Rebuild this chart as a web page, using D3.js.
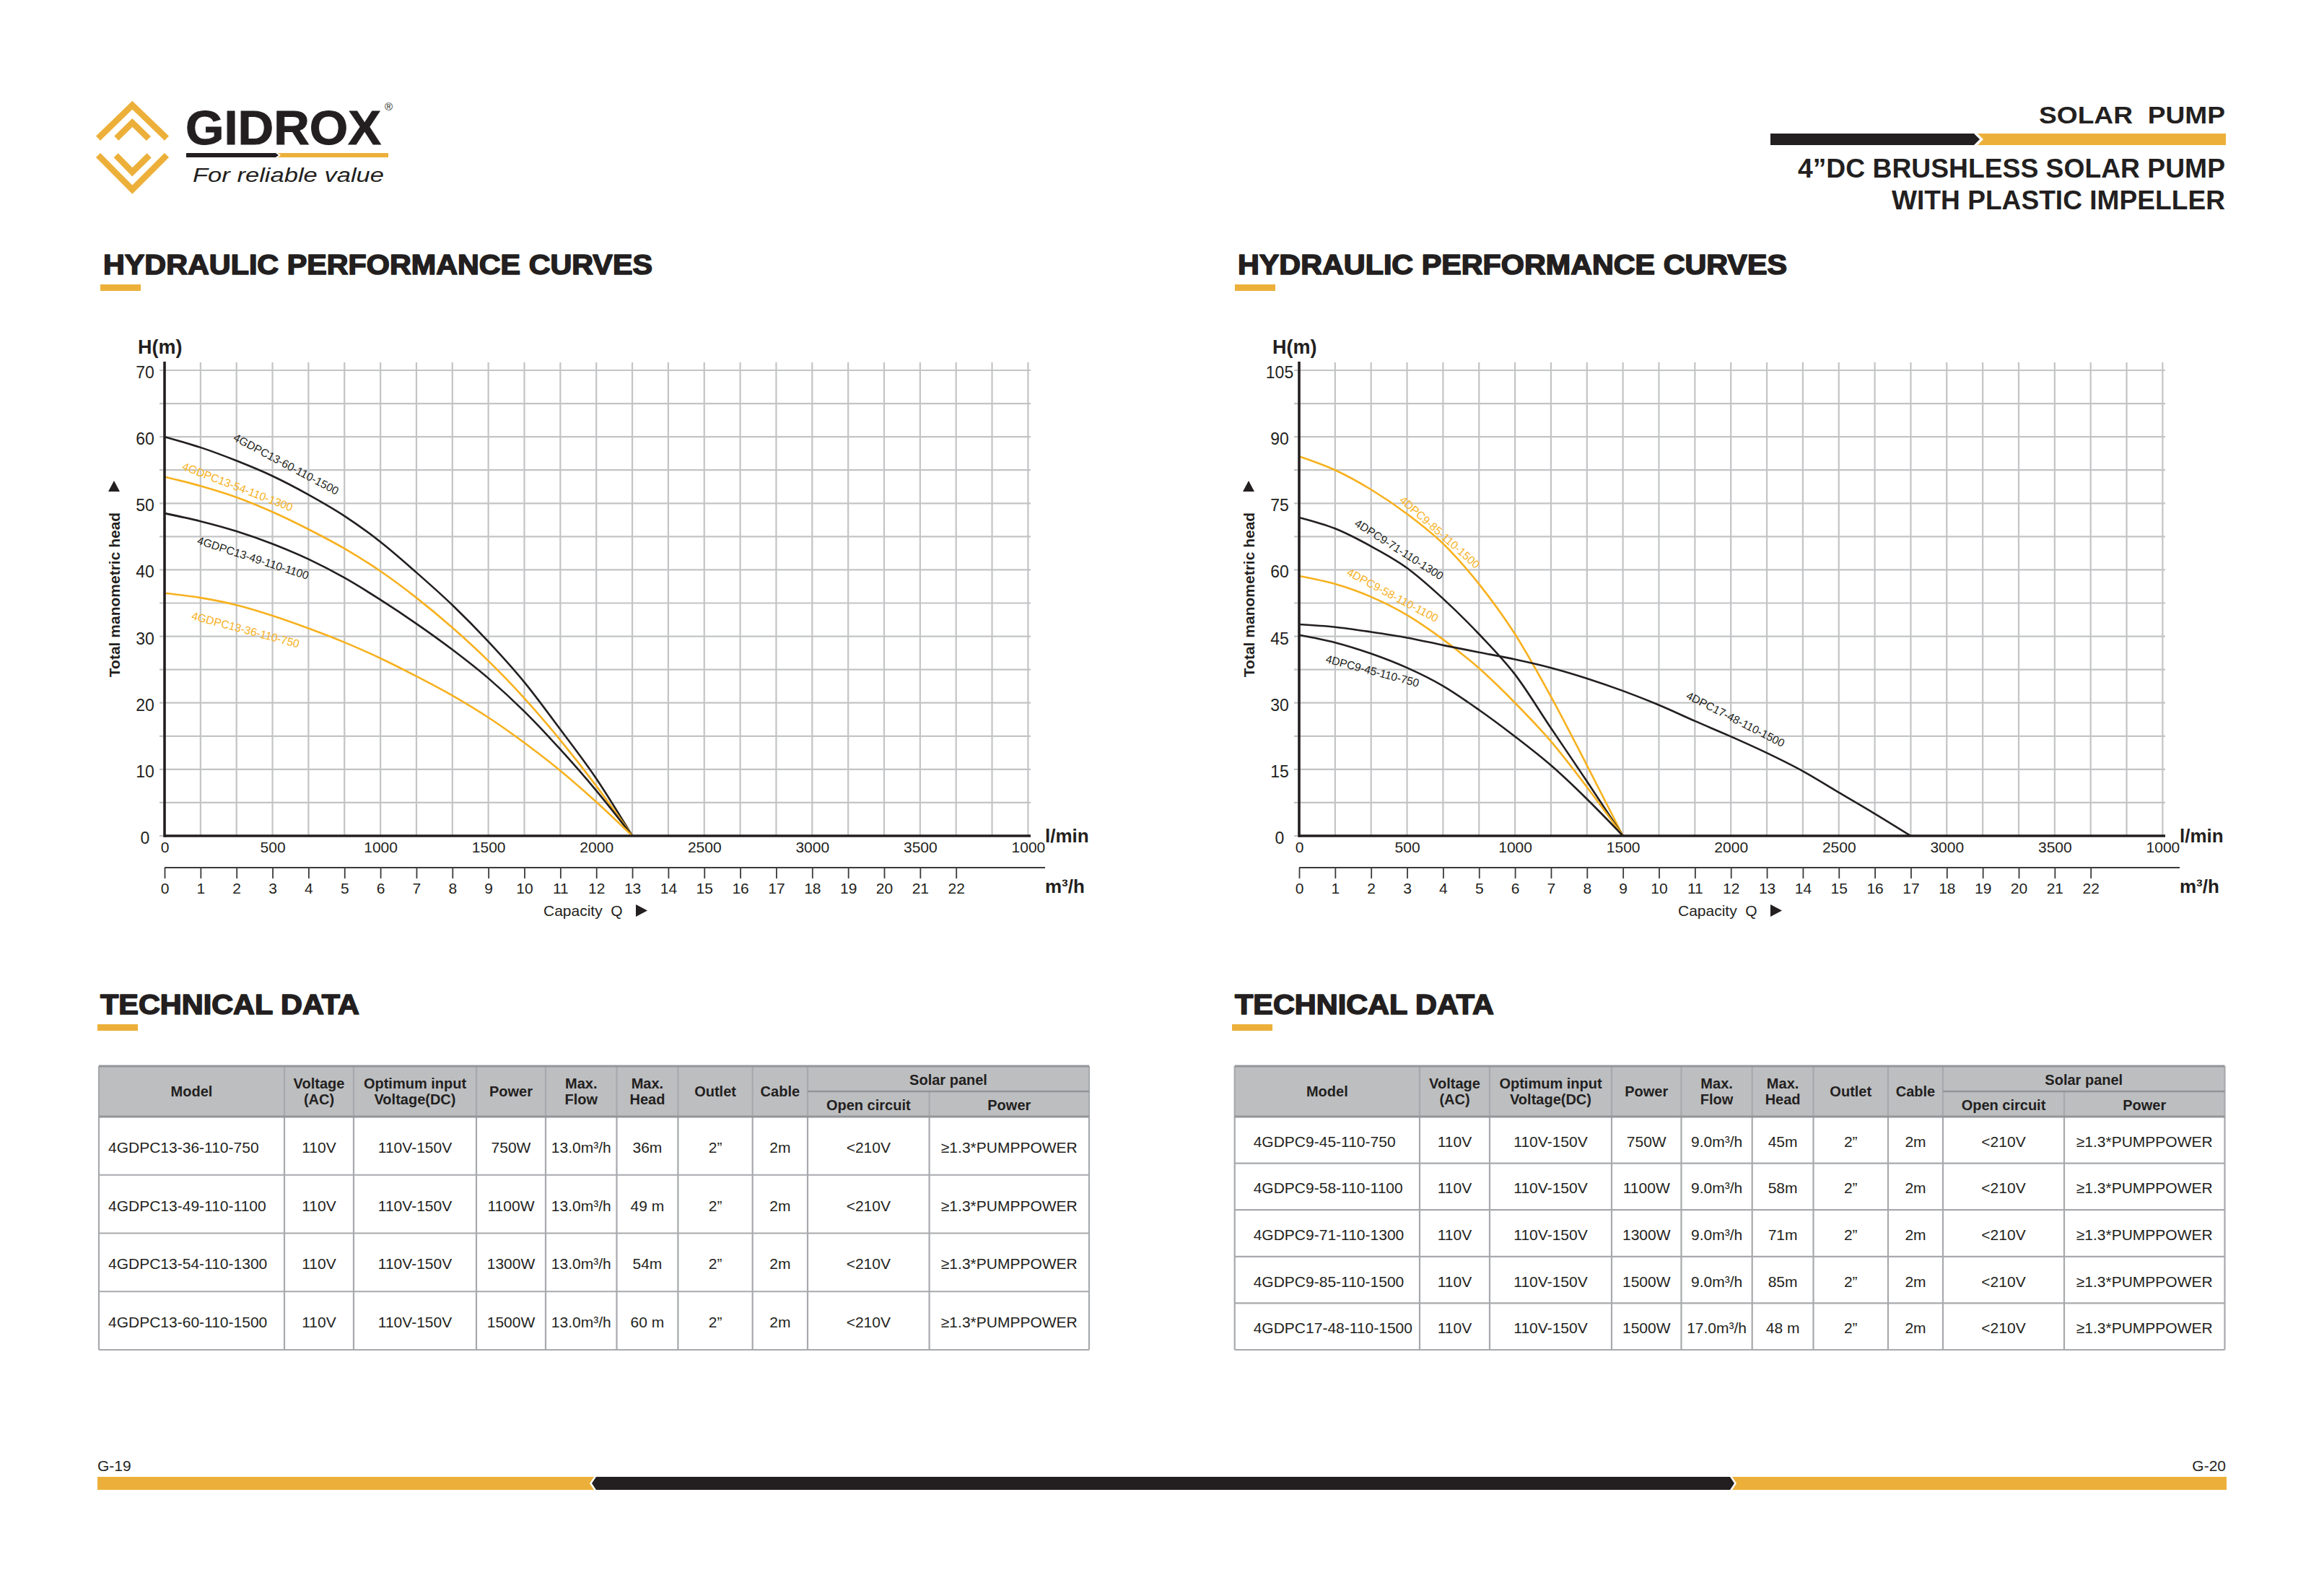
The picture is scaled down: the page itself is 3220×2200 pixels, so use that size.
<!DOCTYPE html>
<html>
<head>
<meta charset="utf-8">
<title>GIDROX – 4"DC brushless solar pump – hydraulic performance curves</title>
<script src="https://cdn.jsdelivr.net/npm/d3@7/dist/d3.min.js"></script>
<style>
  html, body { margin:0; padding:0; background:#ffffff; }
  svg { display:block; }
  text { font-family: "Liberation Sans", Arial, sans-serif; fill:#231f20; white-space: pre; }
</style>
</head>
<body>
<svg id="page" width="3220" height="2200" viewBox="0 0 3220 2200"></svg>
<script>
// ======================= DATA =======================
// axis ticks (flow axis is drawn in m³/h; the l/min row is a second label row)
const flowTicksM3h   = d3.range(0, 23);                     // 0 … 22
const lminTickAt     = [0, 3, 6, 9, 12, 15, 18, 21, 24];    // m³/h positions of l/min labels
const lminTickLabels = ["0","500","1000","1500","2000","2500","3000","3500","1000"];
const leftHeadTicks  = [0, 10, 20, 30, 40, 50, 60, 70];
const rightHeadTicks = [0, 15, 30, 45, 60, 75, 90, 105];

// left chart – 4GDPC13 family (flow m³/h, head m)
const leftFlow   = [0, 1, 2, 3, 4, 5, 6, 7, 8, 9, 10, 11, 12, 13];
const head13_60  = [60.0, 58.4, 56.4, 54.1, 51.3, 48.1, 44.2, 39.6, 34.7, 29.2, 23.1, 16.0, 8.6, 0];
const head13_54  = [54.0, 52.6, 50.9, 48.7, 46.1, 43.2, 39.8, 35.8, 31.3, 26.3, 20.7, 14.4, 7.5, 0];
const head13_49  = [48.5, 47.3, 45.8, 43.9, 41.6, 38.8, 35.5, 31.9, 28.0, 23.7, 18.7, 13.0, 6.8, 0];
const head13_36  = [36.5, 35.8, 34.7, 33.1, 31.2, 29.1, 26.7, 24.0, 21.1, 17.8, 14.0, 9.8, 5.1, 0];

// right chart – 4DPC9 / 4DPC17 family
const rightFlow9  = [0, 1, 2, 3, 4, 5, 6, 7, 8, 9];
const head9_85    = [85.6, 82.5, 78.1, 72.6, 65.9, 56.8, 45.5, 31.4, 15.9, 0];
const head9_71    = [71.8, 69.3, 65.3, 60.4, 53.5, 45.5, 36.4, 24.3, 12.3, 0];
const head9_58    = [58.6, 56.8, 53.9, 49.8, 44.3, 37.8, 30.0, 21.3, 11.0, 0];
const head9_45    = [45.3, 43.6, 41.1, 37.9, 33.8, 28.4, 22.4, 15.9, 8.3, 0];
const rightFlow17 = [0, 1, 2, 3, 4, 5, 6, 7, 8, 9, 10, 11, 12, 13, 14, 15, 16, 17];
const head17_48   = [47.7, 47.1, 46.0, 44.7, 43.0, 41.4, 39.8, 37.9, 35.5, 32.7, 29.5, 25.9, 22.4, 18.7, 14.6, 9.8, 5.0, 0];

const leftCurveNames  = ["4GDPC13-60-110-1500", "4GDPC13-54-110-1300", "4GDPC13-49-110-1100", "4GDPC13-36-110-750"];
const rightCurveNames = ["4DPC9-85-110-1500", "4DPC9-71-110-1300", "4DPC9-58-110-1100", "4DPC9-45-110-750", "4DPC17-48-110-1500"];

// technical data – header texts
const tableHeaders   = ["Model", "Voltage|(AC)", "Optimum input|Voltage(DC)", "Power", "Max.|Flow", "Max.|Head", "Outlet", "Cable"];
const solarGroup     = "Solar panel";
const solarSub       = ["Open circuit", "Power"];

// technical data – left table
const leftModels   = ["4GDPC13-36-110-750", "4GDPC13-49-110-1100", "4GDPC13-54-110-1300", "4GDPC13-60-110-1500"];
const leftVoltAC   = ["110V", "110V", "110V", "110V"];
const leftVoltDC   = ["110V-150V", "110V-150V", "110V-150V", "110V-150V"];
const leftPower    = ["750W", "1100W", "1300W", "1500W"];
const leftMaxFlow  = ["13.0m³/h", "13.0m³/h", "13.0m³/h", "13.0m³/h"];
const leftMaxHead  = ["36m", "49 m", "54m", "60 m"];
const leftOutlet   = ["2”", "2”", "2”", "2”"];
const leftCable    = ["2m", "2m", "2m", "2m"];
const leftOpenCirc = ["<210V", "<210V", "<210V", "<210V"];
const leftPanelPw  = ["≥1.3*PUMPPOWER", "≥1.3*PUMPPOWER", "≥1.3*PUMPPOWER", "≥1.3*PUMPPOWER"];

// technical data – right table
const rightModels   = ["4GDPC9-45-110-750", "4GDPC9-58-110-1100", "4GDPC9-71-110-1300", "4GDPC9-85-110-1500", "4GDPC17-48-110-1500"];
const rightVoltAC   = ["110V", "110V", "110V", "110V", "110V"];
const rightVoltDC   = ["110V-150V", "110V-150V", "110V-150V", "110V-150V", "110V-150V"];
const rightPower    = ["750W", "1100W", "1300W", "1500W", "1500W"];
const rightMaxFlow  = ["9.0m³/h", "9.0m³/h", "9.0m³/h", "9.0m³/h", "17.0m³/h"];
const rightMaxHead  = ["45m", "58m", "71m", "85m", "48 m"];
const rightOutlet   = ["2”", "2”", "2”", "2”", "2”"];
const rightCable    = ["2m", "2m", "2m", "2m", "2m"];
const rightOpenCirc = ["<210V", "<210V", "<210V", "<210V", "<210V"];
const rightPanelPw  = ["≥1.3*PUMPPOWER", "≥1.3*PUMPPOWER", "≥1.3*PUMPPOWER", "≥1.3*PUMPPOWER", "≥1.3*PUMPPOWER"];

// ======================= STYLE / LAYOUT =======================
const INK = "#231f20", GOLD = "#ecb03a", CURVE_GOLD = "#f7b11e", GRID = "#c3c4c6";
const NARROW = "'Liberation Sans Narrow', 'Roboto Condensed', 'Liberation Sans', Arial, sans-serif";
const HEAVY  = "Roboto, 'Liberation Sans', Arial, sans-serif";
const PAGE2 = 1572;   // horizontal offset of the right-hand page

const svg = d3.select("#page");
svg.append("rect").attr("width", 3220).attr("height", 2200).attr("fill", "#fff");

// ---------- logo ----------
(function logo() {
  const g = svg.append("g").attr("transform", "translate(120,120) scale(0.3333)");
  const chevrons = [
    [[48,215],[190,77],[333,215]],
    [[48,285],[190,428],[333,285]],
    [[124,215],[190,150],[258,216]],
    [[122,286],[190,355],[260,286]]
  ];
  g.selectAll("path").data(chevrons).join("path")
    .attr("d", d => d3.line()(d))
    .attr("fill", "none").attr("stroke", GOLD).attr("stroke-width", 26)
    .attr("stroke-linejoin", "miter").attr("stroke-linecap", "butt");

  svg.append("text").attr("x", 257).attr("y", 200)
    .attr("font-family", HEAVY).attr("font-weight", 700).attr("font-size", 67)
    .attr("stroke", INK).attr("stroke-width", 1)
    .attr("textLength", 271).attr("lengthAdjust", "spacingAndGlyphs").text("GIDROX");
  svg.append("text").attr("x", 533).attr("y", 153).attr("font-size", 15).text("®");
  svg.append("polygon").attr("points", "258,212 382,212 386,215 382,218 258,218").attr("fill", INK);
  svg.append("polygon").attr("points", "385,212 538,212 538,218 385,218 389,215").attr("fill", GOLD);
  svg.append("text").attr("x", 267).attr("y", 252)
    .attr("font-family", "'Noto Sans', 'DejaVu Sans', sans-serif").attr("font-weight", 300)
    .attr("font-style", "italic").attr("font-size", 27)
    .attr("textLength", 265).attr("lengthAdjust", "spacingAndGlyphs").text("For reliable value");
})();

// ---------- top-right heading ----------
(function heading() {
  const t = [
    { s: "SOLAR  PUMP", y: 171, len: 258, fs: 34 },
    { s: "4”DC BRUSHLESS SOLAR PUMP", y: 246, len: 592, fs: 36 },
    { s: "WITH PLASTIC IMPELLER", y: 290, len: 462, fs: 36 }
  ];
  svg.selectAll("text.head").data(t).join("text").attr("class", "head")
    .attr("x", 3083).attr("y", d => d.y).attr("text-anchor", "end")
    .attr("font-weight", 700).attr("font-size", d => d.fs)
    .attr("textLength", d => d.len).attr("lengthAdjust", "spacingAndGlyphs")
    .text(d => d.s);
  svg.append("polygon").attr("points", "2453,185 2735,185 2743,193 2735,201 2453,201").attr("fill", INK);
  svg.append("polygon").attr("points", "2740,185 3084,185 3084,201 2740,201 2748,193").attr("fill", GOLD);
})();

// ---------- section titles ----------
function sectionTitle(x, baseline, text, len) {
  svg.append("text").attr("x", x).attr("y", baseline)
    .attr("font-family", HEAVY).attr("font-weight", 900).attr("font-size", 38)
    .attr("stroke", INK).attr("stroke-width", 1.6).attr("stroke-linejoin", "round")
    .attr("textLength", len).attr("lengthAdjust", "spacingAndGlyphs").text(text);
  svg.append("rect").attr("x", x - 4).attr("y", baseline + 14).attr("width", 56).attr("height", 9).attr("fill", GOLD);
}
sectionTitle(143, 380, "HYDRAULIC PERFORMANCE CURVES", 761);
sectionTitle(143 + PAGE2, 380, "HYDRAULIC PERFORMANCE CURVES", 761);
sectionTitle(139, 1405, "TECHNICAL DATA", 359);
sectionTitle(139 + PAGE2, 1405, "TECHNICAL DATA", 359);

// ---------- performance chart ----------
function drawChart(ox, yMax, headTicks, series, labels) {
  const g = svg.append("g").attr("transform", `translate(${ox},0)`);
  const x = d3.scaleLinear().domain([0, 24]).range([228, 1424.4]);
  const y = d3.scaleLinear().domain([0, yMax]).range([1158, 513]);

  // grid
  g.append("g").selectAll("line").data(d3.range(0, 15).map(i => i * yMax / 14)).join("line")
    .attr("x1", 221).attr("x2", 1428).attr("y1", d => y(d)).attr("y2", d => y(d))
    .attr("stroke", GRID).attr("stroke-width", 2.2);
  g.append("g").selectAll("line").data(d3.range(1, 25)).join("line")
    .attr("x1", d => x(d)).attr("x2", d => x(d)).attr("y1", 502).attr("y2", 1158)
    .attr("stroke", GRID).attr("stroke-width", 2.2);

  // curves
  const line = d3.line().x(d => x(d[0])).y(d => y(d[1])).curve(d3.curveMonotoneX);
  g.append("g").selectAll("path").data(series).join("path")
    .attr("d", s => line(d3.zip(s.flow, s.head)))
    .attr("fill", "none").attr("stroke", s => s.color).attr("stroke-width", 2.6);

  // curve labels
  g.append("g").selectAll("text").data(labels).join("text")
    .attr("transform", l => `translate(${x(l.at[0])},${y(l.at[1])}) rotate(${l.angle})`)
    .attr("text-anchor", "middle").attr("dominant-baseline", "central")
    .attr("font-size", 15.5).style("fill", l => l.color).text(l => l.name);

  // axes lines
  g.append("line").attr("x1", 228).attr("x2", 1428).attr("y1", 1158).attr("y2", 1158)
    .attr("stroke", INK).attr("stroke-width", 3.6);
  g.append("line").attr("x1", 228).attr("x2", 228).attr("y1", 501).attr("y2", 1159.8)
    .attr("stroke", INK).attr("stroke-width", 3.6);

  // y tick labels
  g.append("g").selectAll("text").data(headTicks).join("text")
    .attr("x", 201).attr("y", d => y(d) + 3).attr("text-anchor", "middle")
    .attr("dominant-baseline", "central").attr("font-family", NARROW).attr("font-size", 23)
    .text(d => d);

  g.append("text").attr("x", 191).attr("y", 490).attr("font-family", NARROW)
    .attr("font-weight", 700).attr("font-size", 27).text("H(m)");
  g.append("text").attr("transform", "translate(158,824) rotate(-90)")
    .attr("text-anchor", "middle").attr("dominant-baseline", "central")
    .attr("font-weight", 700).attr("font-size", 21).text("Total manometric head");
  g.append("path").attr("d", "M150,681 L166,681 L158,666 Z").attr("fill", INK);

  // l/min label row
  const lminAxis = d3.axisBottom(x).tickValues(lminTickAt).tickSize(0).tickPadding(0)
    .tickFormat((d, i) => lminTickLabels[i]);
  g.append("g").attr("transform", "translate(0,1166)").call(lminAxis)
    .call(a => a.select(".domain").remove())
    .call(a => a.selectAll("text").attr("font-size", 21).attr("font-family", "'Liberation Sans', Arial, sans-serif").attr("fill", INK));
  g.append("text").attr("x", 1448).attr("y", 1158).attr("dominant-baseline", "central")
    .attr("font-weight", 700).attr("font-size", 26).text("l/min");

  // m³/h axis
  g.append("line").attr("x1", 228).attr("x2", 1448).attr("y1", 1202).attr("y2", 1202)
    .attr("stroke", "#3a3a3a").attr("stroke-width", 2);
  const m3Axis = d3.axisBottom(x).tickValues(flowTicksM3h).tickSize(15).tickPadding(6)
    .tickFormat(d3.format("d"));
  g.append("g").attr("transform", "translate(0,1202)").call(m3Axis)
    .call(a => a.select(".domain").remove())
    .call(a => a.selectAll(".tick line").attr("stroke", "#3a3a3a").attr("stroke-width", 1.8))
    .call(a => a.selectAll("text").attr("font-size", 21).attr("font-family", "'Liberation Sans', Arial, sans-serif").attr("fill", INK));
  g.append("text").attr("x", 1448).attr("y", 1228).attr("dominant-baseline", "central")
    .attr("font-weight", 700).attr("font-size", 26).text("m³/h");

  g.append("text").attr("x", 753).attr("y", 1269).attr("font-size", 21).text("Capacity  Q");
  g.append("path").attr("d", "M881,1253 L881,1270 L897,1261.5 Z").attr("fill", INK);
}

drawChart(0, 70, leftHeadTicks,
  [
    { flow: leftFlow, head: head13_60, color: INK },
    { flow: leftFlow, head: head13_54, color: CURVE_GOLD },
    { flow: leftFlow, head: head13_49, color: INK },
    { flow: leftFlow, head: head13_36, color: CURVE_GOLD }
  ],
  [
    { name: leftCurveNames[0], at: [3.38, 55.9], angle: 28, color: INK },
    { name: leftCurveNames[1], at: [2.03, 52.5], angle: 21, color: CURVE_GOLD },
    { name: leftCurveNames[2], at: [2.46, 41.8], angle: 18, color: INK },
    { name: leftCurveNames[3], at: [2.25, 31.0], angle: 15, color: CURVE_GOLD }
  ]);

drawChart(PAGE2, 105, rightHeadTicks,
  [
    { flow: rightFlow9, head: head9_85, color: CURVE_GOLD },
    { flow: rightFlow9, head: head9_71, color: INK },
    { flow: rightFlow9, head: head9_58, color: CURVE_GOLD },
    { flow: rightFlow9, head: head9_45, color: INK },
    { flow: rightFlow17, head: head17_48, color: INK }
  ],
  [
    { name: rightCurveNames[0], at: [3.91, 68.5], angle: 41.5, color: CURVE_GOLD },
    { name: rightCurveNames[1], at: [2.78, 64.6], angle: 32.5, color: INK },
    { name: rightCurveNames[2], at: [2.60, 54.3], angle: 28, color: CURVE_GOLD },
    { name: rightCurveNames[3], at: [2.04, 37.2], angle: 15, color: INK },
    { name: rightCurveNames[4], at: [12.13, 26.3], angle: 27, color: INK }
  ]);

// ---------- technical data tables ----------
function drawTable(edges, columns, modelPad) {
  const g = svg.append("g");
  const top = 1477, split = 1512, headBottom = 1547, bottom = 1870;
  const nRows = columns[0].length;
  const rowY = d3.scaleBand().domain(d3.range(nRows)).range([headBottom, bottom]);
  const left = edges[0], right = edges[edges.length - 1];

  g.append("rect").attr("x", left).attr("y", top).attr("width", right - left)
    .attr("height", headBottom - top).attr("fill", "#bcbec0");

  // row lines
  g.append("g").selectAll("line").data(d3.range(1, nRows + 1)).join("line")
    .attr("x1", left).attr("x2", right)
    .attr("y1", i => rowY(i - 1) + rowY.bandwidth()).attr("y2", i => rowY(i - 1) + rowY.bandwidth())
    .attr("stroke", "#a7a9ac").attr("stroke-width", 2.2);
  // vertical lines
  g.append("g").selectAll("line").data(edges).join("line")
    .attr("x1", d => d).attr("x2", d => d)
    .attr("y1", (d, i) => i === 9 ? split : top).attr("y2", bottom)
    .attr("stroke", "#a7a9ac").attr("stroke-width", 2.2);
  g.append("line").attr("x1", edges[8]).attr("x2", right).attr("y1", split).attr("y2", split)
    .attr("stroke", "#939598").attr("stroke-width", 2.6);
  g.append("line").attr("x1", left).attr("x2", right).attr("y1", top).attr("y2", top)
    .attr("stroke", "#939598").attr("stroke-width", 3.2);
  g.append("line").attr("x1", left).attr("x2", right).attr("y1", headBottom).attr("y2", headBottom)
    .attr("stroke", "#939598").attr("stroke-width", 3.2);

  // header labels
  const headG = g.append("g").attr("font-weight", 700).attr("font-size", 20);
  tableHeaders.forEach((h, i) => {
    const cx = (edges[i] + edges[i + 1]) / 2;
    const lines = h.split("|");
    const cy = (top + headBottom) / 2;
    lines.forEach((ln, k) => {
      headG.append("text").attr("x", cx).attr("y", cy + (k - (lines.length - 1) / 2) * 22.5)
        .attr("text-anchor", "middle").attr("dominant-baseline", "central").text(ln);
    });
  });
  headG.append("text").attr("x", (edges[8] + right) / 2).attr("y", (top + split) / 2 + 1)
    .attr("text-anchor", "middle").attr("dominant-baseline", "central").text(solarGroup);
  solarSub.forEach((s, k) => {
    headG.append("text").attr("x", (edges[8 + k] + edges[9 + k]) / 2).attr("y", (split + headBottom) / 2 + 1)
      .attr("text-anchor", "middle").attr("dominant-baseline", "central").text(s);
  });

  // body cells
  const bodyG = g.append("g").attr("font-size", 21);
  columns.forEach((col, c) => {
    bodyG.append("g").selectAll("text").data(col).join("text")
      .attr("x", c === 0 ? edges[0] + modelPad : (edges[c] + edges[c + 1]) / 2)
      .attr("text-anchor", c === 0 ? "start" : "middle")
      .attr("y", (d, r) => rowY(r) + rowY.bandwidth() / 2 + 2)
      .attr("dominant-baseline", "central").text(d => d);
  });
}

drawTable([137, 394, 490, 660, 756, 854.5, 939.4, 1042.7, 1119, 1287.6, 1509],
  [leftModels, leftVoltAC, leftVoltDC, leftPower, leftMaxFlow, leftMaxHead, leftOutlet, leftCable, leftOpenCirc, leftPanelPw], 13);
drawTable([1710.7, 1967, 2064, 2233, 2329.5, 2427.7, 2512.5, 2616, 2692, 2860, 3082.5],
  [rightModels, rightVoltAC, rightVoltDC, rightPower, rightMaxFlow, rightMaxHead, rightOutlet, rightCable, rightOpenCirc, rightPanelPw], 26);

// ---------- footer ----------
svg.append("text").attr("x", 135).attr("y", 2038).attr("font-family", NARROW).attr("font-size", 21).text("G-19");
svg.append("text").attr("x", 3084).attr("y", 2038).attr("text-anchor", "end").attr("font-family", NARROW).attr("font-size", 21).text("G-20");
svg.append("polygon").attr("points", "135,2046 823,2046 817,2055 823,2064 135,2064").attr("fill", GOLD);
svg.append("polygon").attr("points", "826,2046 2397,2046 2403,2055 2397,2064 826,2064 820,2055").attr("fill", INK);
svg.append("polygon").attr("points", "2400,2046 3085,2046 3085,2064 2400,2064 2406,2055").attr("fill", GOLD);
</script>
</body>
</html>
